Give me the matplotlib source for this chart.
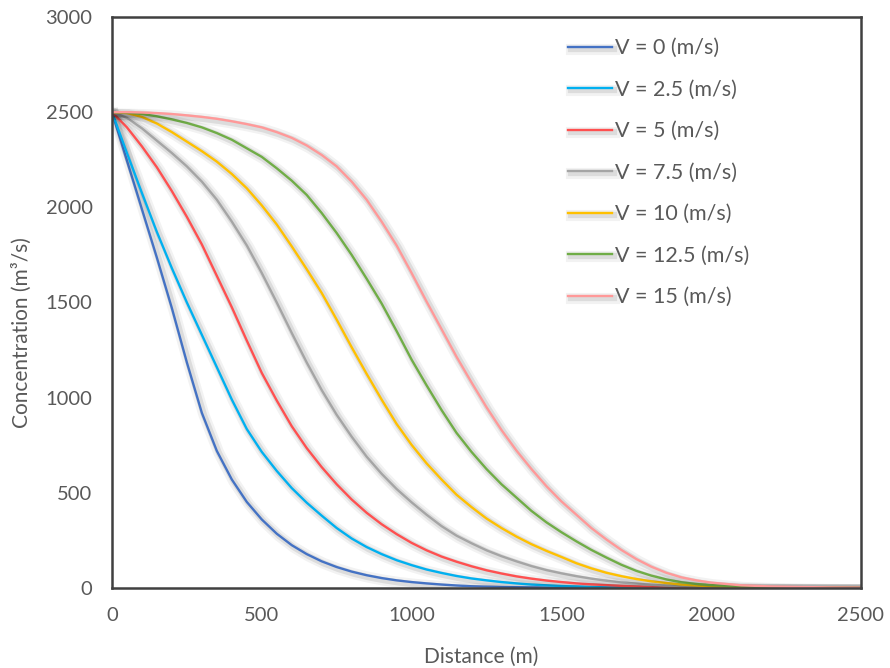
import matplotlib
matplotlib.use("Agg")
import matplotlib.pyplot as plt
import matplotlib.patheffects as pe

plt.rcParams['font.family'] = ['Lato', 'DejaVu Sans']

# distance grid (m)
distance = list(range(0, 2001, 50)) + [2100, 2200, 2300, 2400, 2500]

# concentration for each wind speed
conc_v0 = [2500, 2245, 1990, 1735, 1470, 1185, 920, 720, 570, 452,
           360, 285, 225, 178, 140, 110, 86, 67, 52, 40,
           31, 24, 18, 13, 9, 7, 5, 4, 3, 2,
           1, 1, 1, 1, 0, 0, 0, 0, 0, 0, 0,
           0, 0, 0, 0, 0]
conc_v25 = [2500, 2285, 2075, 1870, 1680, 1500, 1330, 1160, 990, 835,
            715, 615, 525, 448, 380, 315, 260, 215, 178, 146,
            120, 97, 79, 63, 50, 40, 31, 24, 18, 14,
            10, 8, 5, 4, 3, 2, 1, 1, 1, 0, 0,
            0, 0, 0, 0, 0]
conc_v5 = [2500, 2420, 2320, 2210, 2085, 1950, 1805, 1640, 1475, 1300,
           1130, 985, 850, 735, 635, 545, 465, 395, 335, 283,
           237, 198, 165, 138, 114, 93, 76, 61, 49, 39,
           31, 24, 19, 15, 11, 8, 6, 5, 3, 2, 2,
           1, 1, 0, 0, 0]
conc_v75 = [2500, 2470, 2415, 2350, 2285, 2215, 2135, 2040, 1925, 1800,
            1655, 1500, 1340, 1185, 1040, 910, 795, 690, 600, 520,
            450, 385, 325, 275, 235, 198, 167, 140, 115, 94,
            77, 62, 49, 38, 29, 23, 17, 12, 9, 7, 5,
            3, 2, 1, 0, 0]
conc_v10 = [2500, 2495, 2475, 2440, 2395, 2345, 2295, 2240, 2175, 2100,
            2010, 1910, 1795, 1675, 1550, 1410, 1265, 1125, 990, 862,
            752, 655, 570, 490, 425, 365, 315, 270, 230, 195,
            163, 130, 103, 80, 62, 47, 35, 26, 18, 13, 9,
            5, 3, 2, 1, 0]
conc_v125 = [2500, 2498, 2490, 2478, 2462, 2443, 2420, 2390, 2355, 2310,
             2265, 2205, 2140, 2065, 1970, 1865, 1750, 1625, 1495, 1350,
             1200, 1065, 935, 815, 715, 625, 545, 475, 405, 345,
             293, 245, 200, 160, 122, 90, 65, 45, 30, 21, 15,
             8, 4, 2, 1, 1]
conc_v15 = [2500, 2500, 2498, 2495, 2490, 2483, 2475, 2465, 2452, 2437,
            2420, 2395, 2365, 2325, 2275, 2215, 2135, 2040, 1925, 1800,
            1655, 1505, 1360, 1215, 1080, 950, 830, 722, 625, 535,
            455, 385, 315, 255, 200, 152, 112, 80, 56, 40, 28,
            14, 8, 5, 3, 2]

labels = ['V = 0 (m/s)', 'V = 2.5 (m/s)', 'V = 5 (m/s)', 'V = 7.5 (m/s)',
          'V = 10 (m/s)', 'V = 12.5 (m/s)', 'V = 15 (m/s)']
colors = ['#4472C4', '#00B0F0', '#FF5050', '#A5A5A5', '#FFC000', '#70AD47', '#FF9999']
series = [conc_v0, conc_v25, conc_v5, conc_v75, conc_v10, conc_v125, conc_v15]

txt = '#595959'
fs = 14.5

fig = plt.figure(figsize=(8.9, 6.68), dpi=100)
ax = fig.add_axes([0.1258, 0.1198, 0.8416, 0.8548])

# soft drop shadow under each line
shadow = [pe.SimpleLineShadow(offset=(1.5, -1.5), shadow_color='#000000', alpha=0.05, linewidth=8),
          pe.SimpleLineShadow(offset=(1.5, -1.5), shadow_color='#000000', alpha=0.09, linewidth=4.5),
          pe.Normal()]

for c, lab, col in zip(series, labels, colors):
    ax.plot(distance, c, color=col, lw=1.7, label=lab, path_effects=shadow)

ax.set_xlim(0, 2500)
ax.set_ylim(0, 3000)
ax.set_xticks(range(0, 2501, 500))
ax.set_yticks(range(0, 3001, 500))
ax.tick_params(length=0, labelsize=fs, labelcolor=txt, pad=14)

for s in ax.spines.values():
    s.set_color('#404040')
    s.set_linewidth(1.8)

fig.text(481 / 890, 1 - 657 / 668, 'Distance (m)', fontsize=15, color=txt,
         ha='center', va='center')
fig.text(22 / 890, 1 - 333 / 668, 'Concentration (m³/s)', fontsize=15, color=txt,
         ha='center', va='center', rotation=90)

leg = ax.legend(loc='upper left', bbox_to_anchor=(0.598, 0.978), frameon=False,
                fontsize=15.5, handlelength=2.0, handletextpad=0.14, labelspacing=1.0,
                borderaxespad=0)
for t in leg.get_texts():
    t.set_color(txt)

fig.savefig('out.png', dpi=100)
